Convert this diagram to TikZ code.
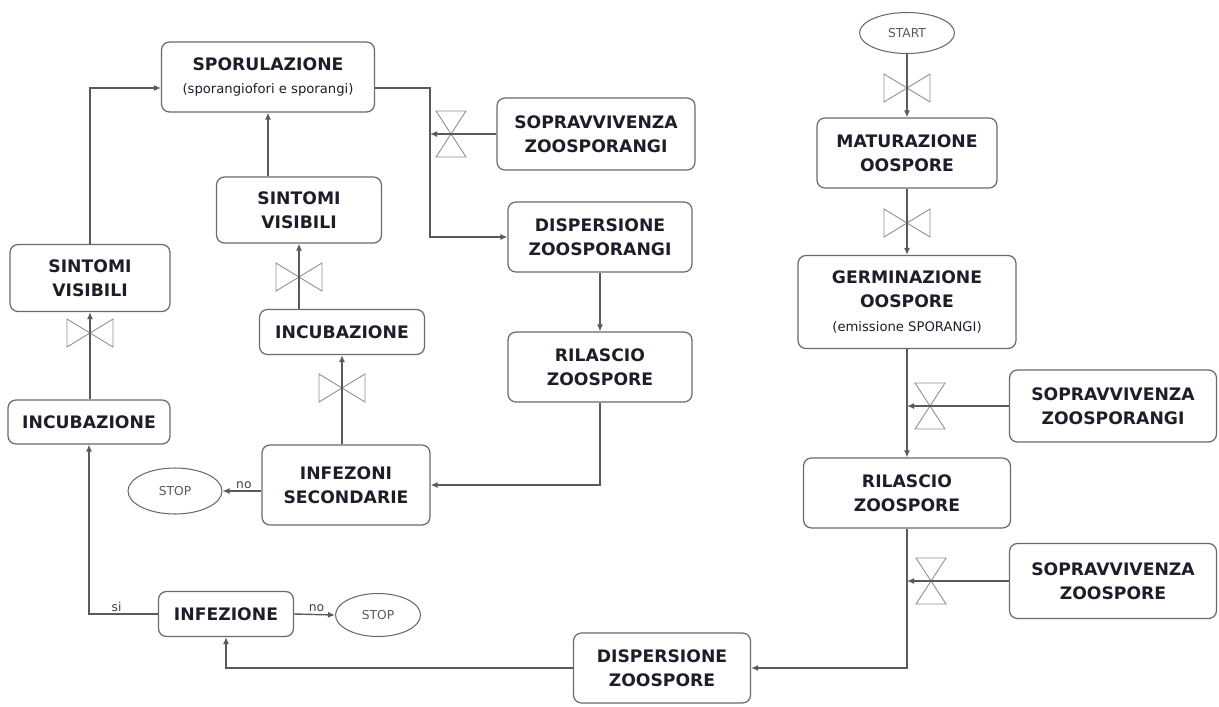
\documentclass[tikz,border=0pt]{standalone}
\usepackage{fontspec}
\setmainfont{DejaVu Sans}
\usepackage{tikz}
\usetikzlibrary{arrows.meta, shapes.geometric, positioning, calc}

\definecolor{linegray}{HTML}{5A5A5A}
\definecolor{boxgray}{HTML}{6A6A6A}
\definecolor{valvegray}{HTML}{8E8E8E}
\definecolor{txtdark}{HTML}{1E1E2A}
\newcommand{\subtxt}{\fontsize{7.5}{9}\selectfont\mdseries}

\begin{document}
\begin{tikzpicture}[
  x=0.02cm, y=-0.02cm,
  phase/.style = {rectangle, draw=boxgray, line width=0.7pt, rounded corners=4.5pt,
                  align=center, text=txtdark, inner sep=0pt,
                  font=\fontsize{9.8}{13.6}\selectfont\bfseries},
  term/.style  = {ellipse, draw=boxgray, line width=0.6pt, inner sep=0pt,
                  text=black!65, font=\fontsize{7}{8}\selectfont},
  lbl/.style   = {font=\fontsize{7}{8}\selectfont, text=black!75, inner sep=1pt},
  arr/.style   = {-{Latex[length=4pt,width=3.5pt]}, draw=linegray, line width=0.8pt},
  valve/.style = {draw=valvegray, line width=0.5pt},
  valveh/.pic  = {\draw[valve] (-23,-14) -- (23,14) -- (23,-14) -- (-23,14) -- cycle;},
  valvev/.pic  = {\draw[valve] (-15,-23) -- (15,23) -- (-15,23) -- (15,-23) -- cycle;}
]
  \useasboundingbox (0,0) rectangle (1219,706);

  % ciclo secondario
  \node[phase, minimum width=4.26cm, minimum height=1.40cm] (spor) at (268,77)
        {SPORULAZIONE\\[-1pt]{\subtxt (sporangiofori e sporangi)}};
  \node[phase, minimum width=3.96cm, minimum height=1.44cm] (sopravA) at (596,134)
        {SOPRAVVIVENZA\\ZOOSPORANGI};
  \node[phase, minimum width=3.68cm, minimum height=1.40cm] (dispA) at (600,237)
        {DISPERSIONE\\ZOOSPORANGI};
  \node[phase, minimum width=3.68cm, minimum height=1.40cm] (rilA) at (600,367)
        {RILASCIO\\ZOOSPORE};
  \node[phase, minimum width=3.30cm, minimum height=1.32cm] (sintB) at (299,210)
        {SINTOMI\\VISIBILI};
  \node[phase, minimum width=3.30cm, minimum height=0.90cm] (incB) at (342,332)
        {INCUBAZIONE};
  \node[phase, minimum width=3.36cm, minimum height=1.60cm] (infB) at (346,485)
        {INFEZONI\\SECONDARIE};
  \node[term, minimum width=1.88cm, minimum height=0.92cm] (stopB) at (175,491) {STOP};

  % ciclo primario
  \node[phase, minimum width=3.20cm, minimum height=1.34cm] (sintA) at (90,278)
        {SINTOMI\\VISIBILI};
  \node[phase, minimum width=3.24cm, minimum height=0.88cm] (incA) at (89,422)
        {INCUBAZIONE};
  \node[phase, minimum width=2.70cm, minimum height=0.90cm] (infez) at (226,614)
        {INFEZIONE};
  \node[term, minimum width=1.70cm, minimum height=0.86cm] (stopA) at (378,615) {STOP};
  \node[phase, minimum width=3.54cm, minimum height=1.40cm] (dispZ) at (662,668)
        {DISPERSIONE\\ZOOSPORE};

  % oospore
  \node[term, minimum width=1.90cm, minimum height=0.82cm] (start) at (907,33) {START};
  \node[phase, minimum width=3.60cm, minimum height=1.40cm] (mat) at (907,153)
        {MATURAZIONE\\OOSPORE};
  \node[phase, minimum width=4.36cm, minimum height=1.86cm] (germ) at (907,302)
        {GERMINAZIONE\\OOSPORE\\{\subtxt (emissione SPORANGI)}};
  \node[phase, minimum width=4.14cm, minimum height=1.44cm] (sopravC) at (1113,406)
        {SOPRAVVIVENZA\\ZOOSPORANGI};
  \node[phase, minimum width=4.14cm, minimum height=1.40cm] (rilC) at (907,493)
        {RILASCIO\\ZOOSPORE};
  \node[phase, minimum width=4.14cm, minimum height=1.50cm] (sopravD) at (1113,581)
        {SOPRAVVIVENZA\\ZOOSPORE};

  \coordinate (jA) at (430,134);
  \coordinate (jC) at (rilC.north |- sopravC.west);
  \coordinate (jD) at (rilC.south |- sopravD.west);

  % valvole
  \pic at (451,134) {valvev};
  \pic at (299,277) {valveh};
  \pic at (342,388) {valveh};
  \pic at (90,333) {valveh};
  \pic at (907,88) {valveh};
  \pic at (907,223) {valveh};
  \pic at (930,406) {valvev};
  \pic at (931,581) {valvev};

  % connessioni
  \draw[arr] (sintA.north) |- ($(spor.west)+(0,11)$);
  \draw[arr] ($(spor.east)+(0,11)$) -| (jA) |- (dispA.west);
  \draw[arr] (sopravA.west) -- (jA);
  \draw[arr] (dispA.south) -- (rilA.north);
  \draw[arr] (rilA.south) |- (infB.east);
  \draw[arr] (infB.west |- stopB.east) -- node[lbl, above, pos=0.45]{no} (stopB.east);
  \draw[arr] (incB.north |- infB.north) -- (incB.south);
  \draw[arr] (sintB.south |- incB.north) -- (sintB.south);
  \draw[arr] (spor.south |- sintB.north) -- (spor.south);
  \draw[arr] (sintA.south |- incA.north) -- (sintA.south);
  \draw[arr] (infez.west) -| node[lbl, above, pos=0.3]{si} (incA.south);
  \draw[arr] (infez.east) -- node[lbl, above, pos=0.55]{no} (stopA.west);
  \draw[arr] (dispZ.west) -| (infez.south);

  \draw[arr] (start.south) -- (mat.north);
  \draw[arr] (mat.south) -- (germ.north);
  \draw[arr] (germ.south) -- (rilC.north);
  \draw[arr] (sopravC.west) -- (jC);
  \draw[arr] (rilC.south) |- (dispZ.east);
  \draw[arr] (sopravD.west) -- (jD);
\end{tikzpicture}
\end{document}
